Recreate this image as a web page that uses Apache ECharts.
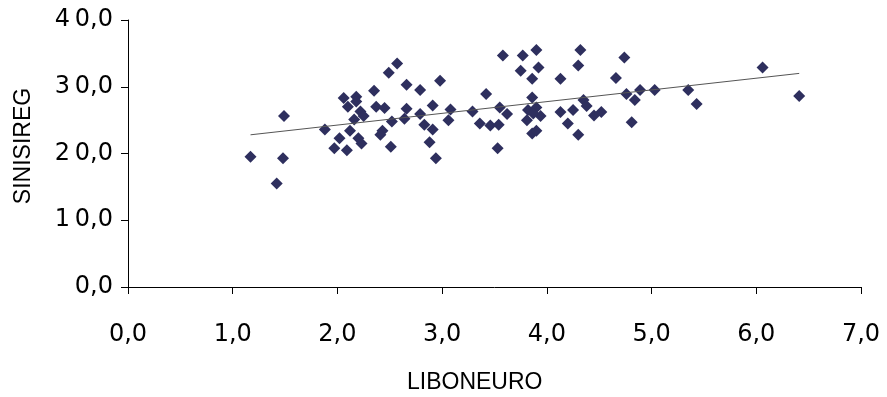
<!DOCTYPE html>
<html>
<head>
<meta charset="utf-8">
<script src="https://cdn.jsdelivr.net/npm/echarts@6/dist/echarts.min.js"></script>
<style>html,body{margin:0;padding:0;background:#fff}#c{width:887px;height:397px}</style>
</head>
<body>
<div id="c"></div>
<script>
const xValues = [1.17,1.42,1.48,1.49,1.88,1.97,2.02,2.09,2.12,2.06,2.10,2.18,2.18,2.22,2.25,2.16,2.20,2.23,2.35,2.37,2.45,2.43,2.41,2.49,2.57,2.51,2.52,2.64,2.66,2.66,2.79,2.79,2.83,2.91,2.91,2.88,2.94,2.98,3.06,3.08,3.29,3.36,3.42,3.46,3.54,3.55,3.62,3.53,3.58,3.77,3.90,3.75,3.92,3.86,3.86,3.82,3.90,3.94,3.81,3.86,3.90,3.87,4.13,4.13,4.25,4.20,4.30,4.32,4.30,4.35,4.38,4.45,4.52,4.66,4.74,4.76,4.84,4.89,4.81,5.03,5.35,5.43,6.06,6.41];
const yValues = [19.5,15.5,19.3,25.6,23.6,20.8,22.3,20.5,23.4,28.3,27.0,28.5,27.8,26.3,25.6,25.1,22.3,21.5,29.4,27.0,26.8,23.4,22.8,32.1,33.5,21.0,24.8,25.2,26.7,30.3,29.5,25.9,24.3,23.6,27.2,21.7,19.3,30.9,25.0,26.6,26.3,24.5,28.9,24.2,24.3,26.9,25.9,20.8,34.7,34.7,35.5,32.4,32.9,31.2,28.4,26.5,26.9,25.6,25.0,23.0,23.4,26.0,31.2,26.2,26.5,24.5,22.8,35.5,33.2,28.0,27.1,25.7,26.2,31.3,34.4,28.9,28.0,29.5,24.7,29.5,29.5,27.4,32.9,28.6];
const trendX = [1.17, 6.41];
const trendY = [22.8, 32.0];
const xTickLabels = ['0,0','1,0','2,0','3,0','4,0','5,0','6,0','7,0'];
const yTickLabels = ['0,0','1\u20090,0','2\u20090,0','3\u20090,0','4\u20090,0'];
const xName = 'LIBONEURO';
const yName = 'SINISIREG';

const chart = echarts.init(document.getElementById('c'), null, {renderer: 'canvas'});
const pts = xValues.map((x, i) => [x, yValues[i]]);
const trend = trendX.map((x, i) => [x, trendY[i]]);
chart.setOption({
  animation: false,
  backgroundColor: '#fff',
  grid: {left: 128, right: 26, top: 20, bottom: 110},
  xAxis: {
    type: 'value', min: 0, max: 7, interval: 1,
    axisLine: {show: true, lineStyle: {color: '#000', width: 1}},
    axisTick: {show: true, length: 7, lineStyle: {color: '#000'}},
    splitLine: {show: false},
    axisLabel: {
      margin: 36, color: '#000', fontFamily: 'DejaVu Sans', fontSize: 24,
      formatter: v => xTickLabels[Math.round(v)]
    }
  },
  yAxis: {
    type: 'value', min: 0, max: 40, interval: 10,
    axisLine: {show: true, lineStyle: {color: '#000', width: 1}},
    axisTick: {show: true, length: 7, lineStyle: {color: '#000'}},
    splitLine: {show: false},
    axisLabel: {
      margin: 15, color: '#000', fontFamily: 'DejaVu Sans', fontSize: 24,
      formatter: v => yTickLabels[Math.round(v / 10)]
    }
  },
  graphic: [
    {type: 'text', left: 407, top: 371, style: {text: xName, fill: '#000', font: '23px "Liberation Sans"'}},
    {type: 'text', x: 24, y: 146, rotation: Math.PI / 2, style: {text: yName, fill: '#000', font: '23px "Liberation Sans"', textAlign: 'center', textVerticalAlign: 'middle'}}
  ],
  series: [
    {
      type: 'scatter', data: pts, symbol: 'diamond', symbolSize: 12,
      itemStyle: {color: '#2e2f5e', opacity: 1}, z: 3
    },
    {
      type: 'line', data: trend, showSymbol: false, symbol: 'none', silent: true,
      lineStyle: {color: '#555', width: 1}, z: 4
    }
  ]
});
</script>
</body>
</html>
